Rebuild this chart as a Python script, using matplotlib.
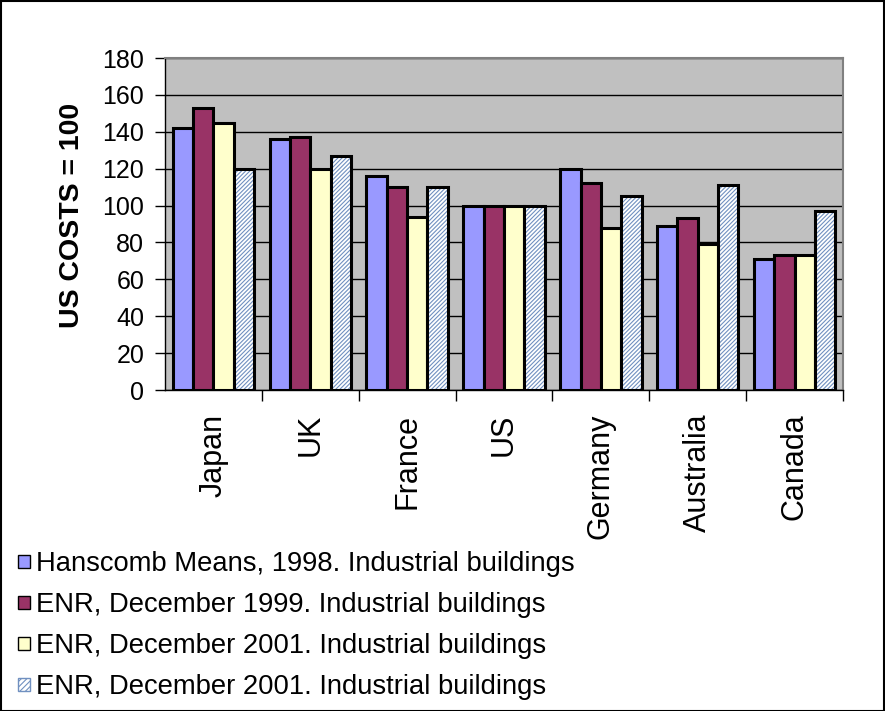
import matplotlib.pyplot as plt
import numpy as np
from matplotlib.patches import Rectangle

plt.rcParams["font.family"] = ["Liberation Sans", "DejaVu Sans"]
plt.rcParams["hatch.linewidth"] = 0.8

countries = ["Japan", "UK", "France", "US", "Germany", "Australia", "Canada"]
series_names = [
    "Hanscomb Means, 1998. Industrial buildings",
    "ENR, December 1999. Industrial buildings",
    "ENR, December 2001. Industrial buildings",
    "ENR, December 2001. Industrial buildings",
]
hanscomb_1998 = [142, 136, 116, 100, 120, 89, 71]
enr_1999 = [153, 137, 110, 100, 112, 93, 73]
enr_2001 = [145, 120, 94, 100, 88, 79, 73]
enr_2001_b = [120, 127, 110, 100, 105, 111, 97]
values = [hanscomb_1998, enr_1999, enr_2001, enr_2001_b]
colors = ["#9999FF", "#993366", "#FFFFCC", "white"]
HATCH_COL = "#7090C0"

fig = plt.figure(figsize=(8.85, 7.11), dpi=100)
ax = fig.add_axes([165 / 885, 1 - 390 / 711, (843 - 165) / 885, (390 - 58) / 711])
ax.set_facecolor("#C0C0C0")

x = np.arange(len(countries))
w = 0.21
for i, vals in enumerate(values):
    pos = x + (i - 1.5) * w
    if i == 3:
        # hatched fill first, then plain black outline on top
        ax.bar(pos, vals, w, color="white", edgecolor=HATCH_COL,
               hatch="////////", linewidth=0, zorder=3)
        ax.bar(pos, vals, w, fill=False, edgecolor="black", linewidth=2.2, zorder=4)
    else:
        ax.bar(pos, vals, w, color=colors[i], edgecolor="black", linewidth=2.2, zorder=3)

ax.set_xlim(-0.5, len(countries) - 0.5)
ax.set_ylim(0, 180)
ax.set_yticks(range(0, 181, 20))
ax.yaxis.grid(True, color="black", linewidth=1)
ax.set_axisbelow(True)
ax.tick_params(axis="y", labelsize=18, length=7, width=1, direction="out", pad=8)

ax.set_xticks(x + 0.5)
ax.set_xticklabels([])
ax.tick_params(axis="x", length=8, width=1, direction="out")
for xi, name in zip(x, countries):
    ax.annotate(name, (xi, 0), xytext=(0, -17), textcoords="offset points",
                rotation=90, ha="center", va="top", fontsize=22)

for s in ["top", "right"]:
    ax.spines[s].set_color("#808080")
    ax.spines[s].set_linewidth(1.5)
ax.spines["left"].set_linewidth(1)
ax.spines["bottom"].set_linewidth(1)

ax.set_ylabel("US COSTS = 100", fontsize=20.5, fontweight="bold")
ax.yaxis.set_label_coords(-0.118, 0.526)

# legend at the bottom, one entry per row
handles = []
for i in range(4):
    if i == 3:
        handles.append(Rectangle((0, 0), 1, 1, facecolor="white", edgecolor=HATCH_COL,
                                 hatch="//////", linewidth=1))
    else:
        handles.append(Rectangle((0, 0), 1, 1, facecolor=colors[i], edgecolor="black",
                                 linewidth=1))
leg = fig.legend(handles, series_names, loc="upper left",
                 bbox_to_anchor=(18 / 885, 1 - 551 / 711),
                 frameon=False, fontsize=19.7, handlelength=0.44, handleheight=0.36,
                 handletextpad=0.22, labelspacing=0.55, borderpad=0, borderaxespad=0)

fig.patches.append(Rectangle((0.5 / 885, 0.5 / 711), 1 - 1.5 / 885, 1 - 1.5 / 711,
                             transform=fig.transFigure, fill=False,
                             edgecolor="black", linewidth=1.5))

fig.savefig("out.png", dpi=100)
